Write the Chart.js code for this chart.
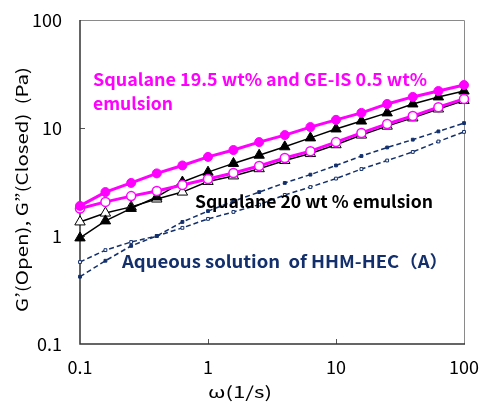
<!DOCTYPE html>
<html>
<head>
<meta charset="utf-8">
<script src="https://cdn.jsdelivr.net/npm/chart.js@4.4.1/dist/chart.umd.min.js"></script>
<style>
  body { margin: 0; background: #fff; }
  canvas { display: block; }
</style>
</head>
<body>
<canvas id="rheoChart" width="481" height="407"></canvas>
<script>
// ==================== DATA ====================
// angular frequency (1/s), 5 points per decade
const omega = [0.1, 0.158, 0.251, 0.398, 0.631, 1, 1.58, 2.51, 3.98, 6.31, 10, 15.8, 25.1, 39.8, 63.1, 100];

// Squalane 19.5 wt% + GE-IS 0.5 wt% emulsion
const geisLoss    = [1.9, 2.55, 3.1, 3.8, 4.5, 5.4, 6.25, 7.4, 8.6, 10.2, 11.9, 13.8, 16.7, 19.4, 22, 25];        // filled circles
const geisStorage = [1.8, 2.07, 2.34, 2.61, 2.97, 3.37, 3.83, 4.45, 5.27, 6.1, 7.4, 9.0, 10.9, 12.9, 15.6, 18.6];  // open circles

// Squalane 20 wt% emulsion
const sq20Loss    = [0.96, 1.38, 1.8, 2.3, 3.16, 3.9, 4.7, 5.6, 6.7, 8.1, 9.8, 11.6, 13.8, 16.7, 19.4, 22];       // filled triangles
const sq20Storage = [1.35, 1.63, 1.86, 2.2, 2.55, 3.2, 3.6, 4.2, 5.0, 5.8, 7.0, 8.6, 10.4, 12.4, 15, 18];           // open triangles

// Aqueous solution of HHM-HEC (A)
const hecLoss     = [0.42, 0.59, 0.81, 1.0, 1.35, 1.7, 2.1, 2.55, 3.1, 3.7, 4.5, 5.5, 6.6, 7.8, 9.3, 11.1];        // filled squares
const hecStorage  = [0.574, 0.74, 0.88, 1.0, 1.19, 1.44, 1.67, 1.95, 2.4, 2.84, 3.4, 4.17, 5.0, 6.0, 7.5, 9.2];    // open squares

const decadeTicks = [0.1, 1, 10, 100];
const tickLabels  = ['0.1', '1', '10', '100'];

const MAGENTA = '#ff00ff';
const NAVY = '#13306c';
const JP_FONT = '"Noto Sans CJK JP", "Noto Sans", sans-serif';

function toPoints(ys) {
    return omega.map((x, i) => ({ x: x, y: ys[i] }));
}

// ==================== HELPERS ====================
// draw text squeezed/stretched to a given width (left aligned, middle baseline)
function fitText(ctx, text, x, y, width) {
    const w = ctx.measureText(text).width;
    ctx.save();
    ctx.translate(x, y);
    ctx.scale(width / w, 1);
    ctx.fillText(text, 0, 0);
    ctx.restore();
}

// ==================== PLUGIN: frame, inner ticks, labels ====================
const decorPlugin = {
    id: 'decor',
    beforeDatasetsDraw(chart) {
        const ctx = chart.ctx;
        const area = chart.chartArea;
        const xs = chart.scales.x, ys = chart.scales.y;
        ctx.save();
        // top / right frame
        ctx.strokeStyle = '#8a8a8a';
        ctx.lineWidth = 1;
        ctx.beginPath();
        ctx.moveTo(area.left, area.top + 0.5);
        ctx.lineTo(area.right + 0.5, area.top + 0.5);
        ctx.lineTo(area.right + 0.5, area.bottom);
        ctx.stroke();
        // inward tick marks
        ctx.strokeStyle = '#555';
        ctx.beginPath();
        [1, 10].forEach(v => {
            const px = Math.round(xs.getPixelForValue(v)) + 0.5;
            ctx.moveTo(px, area.bottom);
            ctx.lineTo(px, area.bottom - 5);
            const py = Math.round(ys.getPixelForValue(v)) + 0.5;
            ctx.moveTo(area.left, py);
            ctx.lineTo(area.left + 5, py);
        });
        ctx.stroke();
        // left / bottom axes
        ctx.strokeStyle = '#333';
        ctx.lineWidth = 1.5;
        ctx.beginPath();
        ctx.moveTo(area.left, area.top);
        ctx.lineTo(area.left, area.bottom);
        ctx.lineTo(area.right + 1, area.bottom);
        ctx.stroke();
        ctx.restore();
    },
    afterDraw(chart) {
        const ctx = chart.ctx;
        ctx.save();
        ctx.textBaseline = 'middle';
        ctx.textAlign = 'left';

        // annotations
        ctx.font = 'bold 17px ' + JP_FONT;
        ctx.fillStyle = MAGENTA;
        fitText(ctx, 'Squalane 19.5 wt% and GE-IS 0.5 wt%', 93, 80, 334);
        fitText(ctx, 'emulsion', 93, 104, 80);
        ctx.fillStyle = '#000';
        fitText(ctx, 'Squalane 20 wt % emulsion', 195, 202, 238);
        ctx.fillStyle = NAVY;
        fitText(ctx, 'Aqueous solution  of HHM-HEC（A）', 122, 262, 326);

        // axis titles
        ctx.fillStyle = '#000';
        ctx.font = '16px ' + JP_FONT;
        fitText(ctx, 'ω(1/s)', 208, 392, 64);
        ctx.translate(22, 190);
        ctx.rotate(-Math.PI / 2);
        fitText(ctx, 'G’(Open), G”(Closed)  (Pa)', -122, 0, 245);
        ctx.restore();
    }
};

// ==================== CHART ====================
function series(data, opts) {
    return Object.assign({
        data: toPoints(data),
        clip: false,
        tension: 0,
        fill: false
    }, opts);
}

const ctx = document.getElementById('rheoChart');
new Chart(ctx.getContext('2d'), {
    type: 'line',
    data: {
        datasets: [
            series(geisLoss, {
                borderColor: MAGENTA, borderWidth: 3,
                pointStyle: 'circle', pointRadius: 4.5,
                pointBackgroundColor: MAGENTA, pointBorderColor: MAGENTA, pointBorderWidth: 1
            }),
            series(geisStorage, {
                borderColor: MAGENTA, borderWidth: 3,
                pointStyle: 'circle', pointRadius: 4.5,
                pointBackgroundColor: '#fff', pointBorderColor: MAGENTA, pointBorderWidth: 1.5
            }),
            series(sq20Loss, {
                borderColor: '#000', borderWidth: 1.5,
                pointStyle: 'triangle', pointRadius: 6,
                pointBackgroundColor: '#000', pointBorderColor: '#000', pointBorderWidth: 1
            }),
            series(sq20Storage, {
                borderColor: '#000', borderWidth: 1.5,
                pointStyle: 'triangle', pointRadius: 6,
                pointBackgroundColor: '#fff', pointBorderColor: '#000', pointBorderWidth: 1
            }),
            series(hecLoss, {
                borderColor: NAVY, borderWidth: 1.5, borderDash: [5, 3],
                pointStyle: 'rect', pointRadius: 2,
                pointBackgroundColor: NAVY, pointBorderColor: NAVY, pointBorderWidth: 1
            }),
            series(hecStorage, {
                borderColor: NAVY, borderWidth: 1.5, borderDash: [5, 3],
                pointStyle: 'rect', pointRadius: 2,
                pointBackgroundColor: '#fff', pointBorderColor: NAVY, pointBorderWidth: 1
            })
        ]
    },
    options: {
        responsive: false,
        animation: false,
        devicePixelRatio: 1,
        layout: { padding: { top: 20, right: 17, left: 0, bottom: 0 } },
        plugins: {
            legend: { display: false },
            tooltip: { enabled: false }
        },
        scales: {
            x: {
                type: 'logarithmic',
                min: 0.1, max: 100,
                afterBuildTicks: s => { s.ticks = decadeTicks.map(v => ({ value: v })); },
                afterFit: s => { s.height = 63; s.paddingLeft = 0; s.paddingRight = 0; },
                grid: { display: false, drawTicks: false },
                border: { display: false },
                ticks: {
                    color: '#000',
                    padding: 12,
                    maxRotation: 0,
                    font: { size: 18, family: JP_FONT },
                    callback: (v) => tickLabels[decadeTicks.indexOf(v)] ?? ''
                }
            },
            y: {
                type: 'logarithmic',
                min: 0.1, max: 100,
                afterBuildTicks: s => { s.ticks = decadeTicks.map(v => ({ value: v })); },
                afterFit: s => { s.width = 80; s.paddingTop = 0; s.paddingBottom = 0; },
                grid: { display: false, drawTicks: false },
                border: { display: false },
                ticks: {
                    color: '#000',
                    padding: 18,
                    font: { size: 18, family: JP_FONT },
                    callback: (v) => tickLabels[decadeTicks.indexOf(v)] ?? ''
                }
            }
        }
    },
    plugins: [decorPlugin]
});
</script>
</body>
</html>
